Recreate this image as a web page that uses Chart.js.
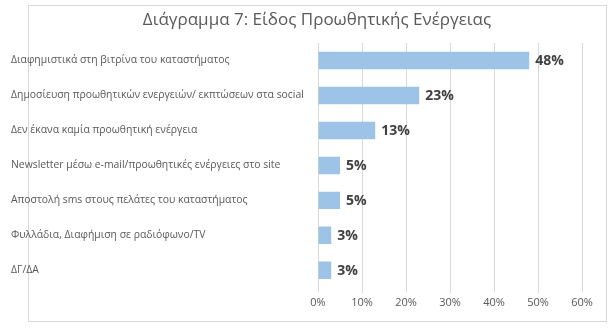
<!DOCTYPE html>
<html>
<head>
<meta charset="utf-8">
<script src="https://cdn.jsdelivr.net/npm/chart.js@4/dist/chart.umd.min.js"></script>
<style>
  html, body { margin: 0; padding: 0; background: #fff; }
  #wrap { width: 613px; height: 329px; }
</style>
</head>
<body>
<div id="wrap"><canvas id="grafico"></canvas></div>
<script>
// Κατηγορίες και τιμές (%)
const categories = [
  'Διαφημιστικά στη βιτρίνα του καταστήματος',
  'Δημοσίευση προωθητικών ενεργειών/ εκπτώσεων στα social',
  'Δεν έκανα καμία προωθητική ενέργεια',
  'Newsletter μέσω e-mail/προωθητικές ενέργειες στο site',
  'Αποστολή sms στους πελάτες του καταστήματος',
  'Φυλλάδια, Διαφήμιση σε ραδιόφωνο/TV',
  'ΔΓ/ΔΑ'
];
const values = [48, 23, 13, 5, 5, 3, 3];
const tickMax = 60;
const tickStep = 10;
const chartTitle = 'Διάγραμμα 7: Είδος Προωθητικής Ενέργειας';

const font = '"Open Sans", "DejaVu Sans", sans-serif';

// πλαίσιο και τίτλος
const framePlugin = {
  id: 'frame',
  beforeDraw(chart) {
    const ctx = chart.ctx;
    ctx.save();
    ctx.strokeStyle = '#d9d9d9';
    ctx.lineWidth = 1;
    ctx.strokeRect(28.5, 5.5, 578, 316);
    ctx.font = '17px ' + font;
    ctx.fillStyle = '#595959';
    ctx.textAlign = 'center';
    ctx.textBaseline = 'middle';
    ctx.fillText(chartTitle, 317, 20);
    ctx.restore();
  }
};

// ετικέτες τιμών στο τέλος κάθε μπάρας
const valueLabels = {
  id: 'valueLabels',
  afterDatasetsDraw(chart) {
    const ctx = chart.ctx;
    const meta = chart.getDatasetMeta(0);
    ctx.save();
    ctx.font = 'bold 14px ' + font;
    ctx.fillStyle = '#404040';
    ctx.textAlign = 'left';
    ctx.textBaseline = 'middle';
    meta.data.forEach((bar, i) => {
      ctx.fillText(values[i] + '%', bar.x + 6, bar.y + 1);
    });
    ctx.restore();
  }
};

new Chart(document.getElementById('grafico'), {
  type: 'bar',
  data: {
    labels: categories,
    datasets: [{
      data: values,
      backgroundColor: '#9dc3e6',
      borderWidth: 0,
      barPercentage: 0.5,
      categoryPercentage: 1
    }]
  },
  options: {
    indexAxis: 'y',
    responsive: true,
    maintainAspectRatio: false,
    animation: false,
    layout: { padding: { left: 11, right: 31, top: 43, bottom: 17 } },
    plugins: {
      legend: { display: false },
      tooltip: { enabled: false },
      title: { display: false }
    },
    scales: {
      x: {
        min: 0,
        max: tickMax,
        border: { display: false },
        grid: { color: '#d9d9d9', tickLength: 5 },
        ticks: {
          stepSize: tickStep,
          color: '#595959',
          font: { family: font, size: 11 },
          padding: 3,
          callback: v => v + '%'
        }
      },
      y: {
        border: { display: false },
        grid: { display: false },
        afterFit(scale) { scale.width = 307; },
        ticks: {
          crossAlign: 'far',
          color: '#595959',
          font: { family: font, size: 10.4 },
          padding: 0
        }
      }
    }
  },
  plugins: [framePlugin, valueLabels]
});
</script>
</body>
</html>
